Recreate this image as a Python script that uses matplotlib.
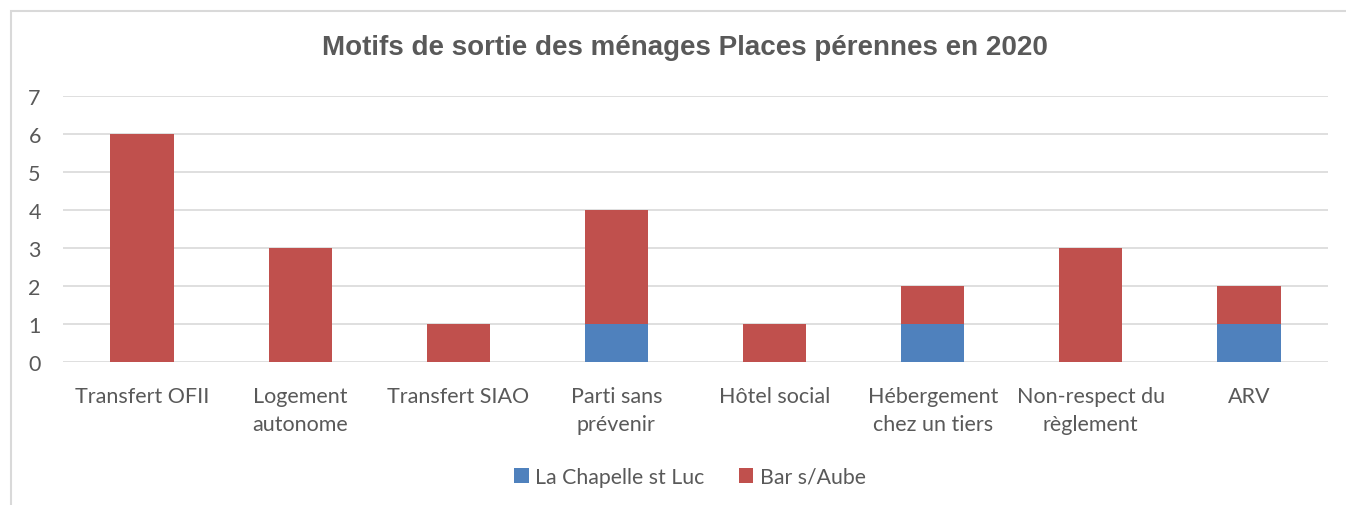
import matplotlib
matplotlib.use("Agg")
import matplotlib.pyplot as plt
import matplotlib.patches as mpatches
from matplotlib import font_manager
import numpy as np

# Données
categories = ["Transfert OFII", "Logement\nautonome", "Transfert SIAO", "Parti sans\nprévenir",
              "Hôtel social", "Hébergement\nchez un tiers", "Non-respect du\nrèglement", "ARV"]
chapelle = [0, 0, 0, 1, 0, 1, 0, 1]
bar_aube = [6, 3, 1, 3, 1, 1, 3, 1]
yticks = [0, 1, 2, 3, 4, 5, 6, 7]

COR_BLEU = "#4F81BD"
COR_ROUGE = "#C0504D"
COR_TEXTO = "#595959"
COR_GRADE = "#D9D9D9"
FONTE = "Lato"

# Police du titre : Liberation Sans Bold (pas la version Narrow)
titre_font = {"family": "Liberation Sans", "weight": "bold"}
for f in font_manager.findSystemFonts():
    if f.endswith("LiberationSans-Bold.ttf"):
        titre_font = {"fname": f}
        break

fig = plt.figure(figsize=(13.46, 5.06), dpi=100, facecolor="white")
ax = fig.add_axes([63 / 1346, 1 - 363 / 506, (1328 - 63) / 1346, (363 - 97) / 506])

x = np.arange(len(categories))
ax.bar(x, chapelle, width=0.4, color=COR_BLEU, label="La Chapelle st Luc", zorder=3)
ax.bar(x, bar_aube, width=0.4, bottom=chapelle, color=COR_ROUGE, label="Bar s/Aube", zorder=3)

ax.set_xlim(-0.5, len(categories) - 0.5)
ax.set_ylim(0, 7)
ax.set_yticks(yticks)
ax.yaxis.grid(True, color=COR_GRADE, linewidth=1.2, zorder=0)
ax.set_axisbelow(True)
for s in ax.spines.values():
    s.set_visible(False)
ax.tick_params(length=0, colors=COR_TEXTO, labelsize=15.5)
ax.tick_params(axis="y", pad=16)
ax.tick_params(axis="x", pad=17)
ax.set_xticks(x)
ax.set_xticklabels(categories, fontfamily=FONTE, fontsize=15.5, color=COR_TEXTO, linespacing=1.5)
for lbl in ax.get_yticklabels():
    lbl.set_fontfamily(FONTE)

fp_titre = font_manager.FontProperties(**titre_font, size=20)
fig.text(685 / 1346, 1 - 48 / 506, "Motifs de sortie des ménages Places pérennes en 2020",
         ha="center", va="center", fontproperties=fp_titre, color=COR_TEXTO)

leg = fig.legend(loc="center", bbox_to_anchor=(690 / 1346, 1 - 478 / 506), ncol=2,
                 frameon=False, prop={"family": FONTE, "size": 15.3},
                 handlelength=0.7, handleheight=0.7, columnspacing=1.6, handletextpad=0.3)
for t in leg.get_texts():
    t.set_color(COR_TEXTO)

# Bordure du graphique
fig.patches.append(mpatches.Rectangle((11 / 1346, -0.1), 1.2, 1 - 12 / 506 + 0.1,
                                      transform=fig.transFigure, fill=False,
                                      edgecolor=COR_GRADE, linewidth=1.5))

fig.savefig("out.png", dpi=100, facecolor="white")
